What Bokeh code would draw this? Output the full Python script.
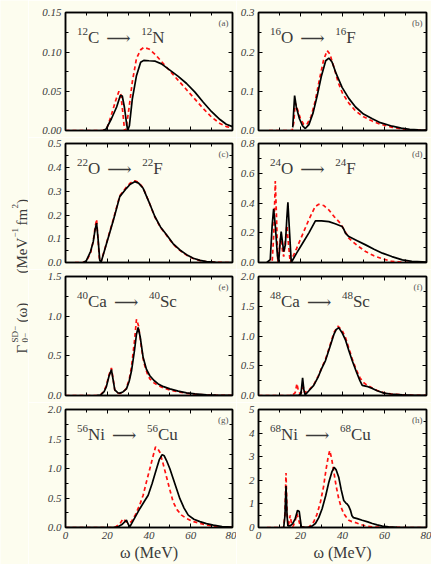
import math
from bokeh.plotting import figure
from bokeh.models import (Range1d, LinearAxis, FixedTicker, AllLabels,
                          CustomJSTickFormatter)
from bokeh.core.properties import value
from bokeh.layouts import row, column
from bokeh.embed import file_html
from bokeh.resources import INLINE

BG = "#fdfdef"
TXT = "#3a3a3a"
SERIF = "Liberation Serif"

# ---------------- data (MeV, MeV^-1 fm^2) ----------------
c12_full_x = [18, 19.5, 22, 24.5, 26.3, 27.2, 28.2, 29.2, 29.8, 30.6, 32, 34, 36, 37.5, 40, 43, 46, 50, 54, 58, 62, 66, 70, 74, 77, 80]
c12_full_y = [0, 0.002, 0.015, 0.03, 0.045, 0.044, 0.03, 0.01, 0, 0.006, 0.04, 0.07, 0.087, 0.0895, 0.089, 0.0885, 0.085, 0.077, 0.069, 0.06, 0.049, 0.036, 0.024, 0.014, 0.008, 0.005]
c12_red_x = [0, 18, 20, 22, 24, 25.6, 26.5, 27.5, 28.3, 29, 30.5, 32, 34, 36, 37.5, 40, 43, 46, 50, 54, 58, 62, 66, 70, 74, 77, 80]
c12_red_y = [0, 0, 0.004, 0.02, 0.038, 0.05, 0.046, 0.022, 0, 0.002, 0.03, 0.062, 0.092, 0.103, 0.106, 0.104, 0.097, 0.088, 0.076, 0.064, 0.052, 0.04, 0.028, 0.017, 0.009, 0.005, 0.003]

o16_full_x = [16.3, 17.2, 18, 19.5, 21, 22.3, 24, 26, 28, 30, 32, 33.5, 35, 37, 39.8, 43, 46.2, 50, 54.2, 58, 63.7, 68, 72, 76, 80]
o16_full_y = [0.008, 0.089, 0.06, 0.03, 0.012, 0.005, 0.015, 0.045, 0.09, 0.14, 0.178, 0.185, 0.175, 0.145, 0.11, 0.082, 0.06, 0.042, 0.03, 0.02, 0.011, 0.006, 0.003, 0.0015, 0.001]
o16_red_x = [5, 16, 16.8, 17.5, 18.5, 20, 21.5, 23, 25, 27, 29, 31, 32.7, 34, 36, 38, 40, 43, 46.2, 50, 54.2, 58, 63.7, 68, 72, 76, 80]
o16_red_y = [0, 0, 0.02, 0.07, 0.055, 0.03, 0.016, 0.015, 0.035, 0.075, 0.13, 0.18, 0.204, 0.195, 0.16, 0.122, 0.095, 0.07, 0.05, 0.035, 0.024, 0.016, 0.008, 0.004, 0.002, 0.001, 0.0005]

o22_full_x = [8.5, 10, 12, 13.3, 14.2, 14.9, 15.6, 16.4, 17, 19, 21, 23, 26, 29.2, 31, 33.2, 35, 37.2, 40, 42.8, 45.5, 48.4, 51.5, 54.8, 58, 61.2, 64.5, 67.6, 72, 76, 80]
o22_full_y = [0, 0.008, 0.046, 0.088, 0.14, 0.166, 0.1, 0.01, 0.0, 0.06, 0.12, 0.18, 0.278, 0.313, 0.33, 0.341, 0.335, 0.313, 0.255, 0.194, 0.15, 0.117, 0.08, 0.053, 0.033, 0.018, 0.009, 0.004, 0.001, 0.0, 0.0]
o22_red_x = [4.5, 8.5, 10, 12, 13.3, 14.2, 14.9, 15.5, 16.2, 16.9, 19, 21, 23, 26, 29.2, 31, 33.2, 35, 37.2, 40, 42.8, 45.5, 48.4, 51.5, 54.8, 58, 61.2, 64.5, 67.6, 72, 76, 80]
o22_red_y = [0, 0, 0.006, 0.04, 0.09, 0.15, 0.182, 0.11, 0.02, 0, 0.062, 0.124, 0.185, 0.282, 0.318, 0.335, 0.345, 0.338, 0.315, 0.255, 0.192, 0.148, 0.115, 0.078, 0.051, 0.031, 0.017, 0.008, 0.003, 0.001, 0.0, 0.0]

o24_full_x = [4, 5.6, 6.5, 7.2, 8, 9, 9.6, 10.2, 10.8, 11.4, 12, 12.8, 13.5, 14, 14.8, 15.6, 18, 21, 24, 27.1, 30, 33.5, 36.5, 39.8, 40.6, 41.4, 43, 47, 51, 55, 59, 63.5, 68.5, 73, 78, 80]
o24_full_y = [0, 0.02, 0.25, 0.362, 0.25, 0.05, 0.0, 0.12, 0.209, 0.14, 0.074, 0.12, 0.3, 0.407, 0.2, 0.0, 0.06, 0.13, 0.2, 0.281, 0.281, 0.276, 0.262, 0.243, 0.225, 0.198, 0.175, 0.147, 0.119, 0.09, 0.063, 0.04, 0.018, 0.008, 0.004, 0.002]
o24_red_x = [4, 6.5, 7.3, 8, 8.6, 9.2, 10, 10.7, 11.4, 12, 12.8, 13.5, 14.3, 15.1, 18, 21, 24, 27, 28.7, 31, 33.5, 36, 39, 41, 43, 47, 51, 55, 59, 63.7, 68, 72, 76, 80]
o24_red_y = [0, 0, 0.2, 0.55, 0.3, 0.0, 0.1, 0.19, 0.08, 0.04, 0.15, 0.25, 0.12, 0.0, 0.09, 0.19, 0.29, 0.378, 0.393, 0.385, 0.355, 0.31, 0.265, 0.215, 0.164, 0.115, 0.074, 0.045, 0.025, 0.007, 0.002, 0.001, 0.0, 0.0]

ca40_full_x = [15, 16.8, 18.5, 19.6, 20.8, 22, 22.8, 23.6, 25, 26, 27.5, 29.2, 30.5, 31.6, 33, 34, 34.8, 35.8, 37.2, 38.8, 40.4, 42.4, 44.4, 47, 50, 54, 58, 62, 67.6, 72, 76, 80]
ca40_full_y = [0, 0.005, 0.05, 0.113, 0.24, 0.327, 0.2, 0.07, 0.035, 0.03, 0.045, 0.084, 0.18, 0.31, 0.56, 0.775, 0.86, 0.74, 0.48, 0.33, 0.25, 0.19, 0.147, 0.112, 0.084, 0.055, 0.034, 0.02, 0.008, 0.004, 0.002, 0.001]
ca40_red_x = [0, 15, 16.8, 18.5, 19.6, 20.8, 22, 22.8, 23.6, 25, 26, 27.5, 29, 30.5, 31.6, 33, 34, 35, 36.3, 37.5, 39, 40.4, 42.4, 44.4, 47, 50, 54, 58, 62, 67.6, 72, 76, 80]
ca40_red_y = [0, 0, 0.008, 0.06, 0.13, 0.26, 0.348, 0.21, 0.07, 0.03, 0.025, 0.04, 0.085, 0.2, 0.36, 0.68, 0.964, 0.88, 0.62, 0.42, 0.29, 0.21, 0.16, 0.126, 0.095, 0.07, 0.045, 0.028, 0.016, 0.006, 0.003, 0.001, 0.0]

ca48_full_x = [15, 19, 20.2, 21, 21.6, 22.2, 24, 26.3, 28.5, 30, 31.9, 34, 35.9, 37, 38.2, 39.8, 41.5, 43, 44.6, 46.5, 48.3, 49.4, 51.5, 54.2, 56.5, 59.8, 63, 68.5, 74, 80]
ca48_full_y = [0, 0, 0.02, 0.296, 0.1, 0.01, 0.08, 0.17, 0.32, 0.45, 0.59, 0.82, 1.03, 1.11, 1.145, 1.06, 0.93, 0.76, 0.59, 0.41, 0.25, 0.17, 0.155, 0.12, 0.08, 0.04, 0.025, 0.01, 0.004, 0.001]
ca48_red_x = [0, 16, 17.5, 18.3, 19, 19.8, 20.5, 21.3, 22, 24, 26.3, 28.5, 30, 31.9, 34, 35.9, 37.8, 39.8, 41.5, 43, 44.6, 46.5, 48.3, 50, 51.5, 54.2, 56.5, 59.8, 63, 68.5, 74, 80]
ca48_red_y = [0, 0, 0.05, 0.2, 0.08, 0.03, 0.05, 0.15, 0.05, 0.09, 0.18, 0.33, 0.46, 0.61, 0.84, 1.06, 1.17, 1.1, 0.97, 0.8, 0.62, 0.44, 0.3, 0.22, 0.18, 0.125, 0.085, 0.045, 0.026, 0.01, 0.004, 0.001]

ni56_full_x = [0, 22.8, 25, 27, 29.2, 30, 30.8, 32.5, 35.6, 37.5, 39.6, 41.5, 43.6, 45, 46.3, 47.3, 48.4, 50, 51.6, 53.2, 54.8, 56.8, 58.8, 61.5, 64.4, 67.5, 70.8, 75, 80]
ni56_full_y = [0, 0, 0.01, 0.05, 0.124, 0.06, 0.01, 0.12, 0.32, 0.43, 0.55, 0.75, 1.0, 1.16, 1.24, 1.22, 1.14, 1.0, 0.83, 0.66, 0.49, 0.33, 0.21, 0.14, 0.1, 0.065, 0.04, 0.015, 0.005]
ni56_red_x = [0, 22, 24, 26, 27.6, 29, 30.2, 31.6, 33.5, 35.5, 37.2, 38.8, 40.4, 42, 43.1, 44.2, 45.2, 46.8, 48.4, 50, 51.6, 53.5, 55.6, 58.2, 61.2, 64.5, 68, 72, 76, 80]
ni56_red_y = [0, 0, 0.01, 0.06, 0.15, 0.1, 0.08, 0.1, 0.22, 0.38, 0.55, 0.78, 1.0, 1.22, 1.37, 1.34, 1.28, 1.08, 0.86, 0.64, 0.43, 0.3, 0.21, 0.15, 0.1, 0.07, 0.04, 0.02, 0.008, 0.002]

ni68_full_x = [11.5, 12, 12.6, 13.1, 13.6, 14, 15.1, 16.3, 17.5, 18.6, 19.4, 19.9, 20.4, 22, 23.9, 25.5, 27.1, 28.7, 30.3, 32, 33.5, 35, 36, 37, 38.2, 39.4, 40.6, 41.5, 42.2, 43, 43.8, 44.5, 45.2, 47, 49.4, 52, 54.2, 56.5, 59, 62, 66, 70, 80]
ni68_full_y = [0, 0, 0.5, 1.76, 0.5, 0.07, 0.07, 0.17, 0.38, 0.73, 0.68, 0.35, 0.03, 0.01, 0.01, 0.06, 0.17, 0.42, 0.8, 1.35, 1.93, 2.38, 2.56, 2.45, 2.14, 1.6, 1.15, 1.05, 1.0, 0.9, 0.73, 0.5, 0.42, 0.38, 0.31, 0.24, 0.17, 0.11, 0.06, 0.03, 0.01, 0.0, 0.0]
ni68_red_x = [4, 12, 12.6, 13.1, 13.6, 14.2, 15.1, 15.8, 16.5, 17.5, 18.3, 19.2, 20, 22, 24, 26.3, 27.8, 29.5, 31, 32.2, 33.2, 33.9, 34.8, 35.9, 37, 38.2, 39.4, 40.6, 42, 43, 44.5, 46.2, 48.5, 51, 54, 57, 60, 65, 70, 80]
ni68_red_y = [0, 0, 0.6, 2.32, 0.6, 0.05, 0.52, 0.1, 0.05, 0.3, 0.59, 0.3, 0.03, 0.01, 0.02, 0.24, 0.55, 1.08, 1.75, 2.49, 3.0, 3.27, 2.95, 2.35, 1.75, 1.23, 0.85, 0.59, 0.42, 0.31, 0.25, 0.21, 0.13, 0.07, 0.03, 0.015, 0.008, 0.003, 0.0, 0.0]

# y-axis tick labels per panel (also fix each panel's y extent)
a_ticks = ["0.00", "0.05", "0.10", "0.15"]
b_ticks = ["0.0", "0.1", "0.2", "0.3"]
c_ticks = ["0.0", "0.1", "0.2", "0.3", "0.4", "0.5"]
d_ticks = ["0.0", "0.2", "0.4", "0.6", "0.8"]
e_ticks = ["0.0", "0.5", "1.0", "1.5"]
f_ticks = ["0.0", "0.5", "1.0", "1.5", "2.0"]
g_ticks = ["0.0", "0.5", "1.0", "1.5", "2.0"]
h_ticks = ["0", "1", "2", "3", "4", "5"]
x_ticks = ["0", "20", "40", "60", "80"]

# panel settings: (full x, full y, red x, red y, y tick labels,
#                  mass number, parent, daughter, panel tag)
panels = [
    (c12_full_x, c12_full_y, c12_red_x, c12_red_y, a_ticks, "12", "C", "N", "(a)"),
    (o16_full_x, o16_full_y, o16_red_x, o16_red_y, b_ticks, "16", "O", "F", "(b)"),
    (o22_full_x, o22_full_y, o22_red_x, o22_red_y, c_ticks, "22", "O", "F", "(c)"),
    (o24_full_x, o24_full_y, o24_red_x, o24_red_y, d_ticks, "24", "O", "F", "(d)"),
    (ca40_full_x, ca40_full_y, ca40_red_x, ca40_red_y, e_ticks, "40", "Ca", "Sc", "(e)"),
    (ca48_full_x, ca48_full_y, ca48_red_x, ca48_red_y, f_ticks, "48", "Ca", "Sc", "(f)"),
    (ni56_full_x, ni56_full_y, ni56_red_x, ni56_red_y, g_ticks, "56", "Ni", "Cu", "(g)"),
    (ni68_full_x, ni68_full_y, ni68_red_x, ni68_red_y, h_ticks, "68", "Ni", "Cu", "(h)"),
]

# ---------------- layout geometry ----------------
ROW_H = [137, 132, 133, 162]
TOP_B = [12, 6, 7, 7]
BOT_B = [7, 7, 7, 37]
COL_W = [208, 195]
LEFT_B = [37, 22]
RIGHT_B = [4, 5]

EL_W = {"C": 0.667, "N": 0.722, "O": 0.722, "F": 0.556, "Ca": 1.111,
        "Sc": 1.0, "Ni": 1.0, "Cu": 1.167}
MAIN_FS = 17
SUP_FS = 11


def add_text(p, x, y, txt, size, font=SERIF, color=TXT, align="left",
             baseline="alphabetic", angle=0.0, style="normal"):
    p.text(x=[x], y=[y], text=[txt], text_font=value(font),
           text_font_size=value(f"{size}px"), text_color=color,
           text_align=align, text_baseline=baseline, angle=angle,
           text_font_style=style)


def make_ticker(labels):
    major = [float(t) for t in labels]
    minor = [(major[k] + major[k + 1]) / 2 for k in range(len(major) - 1)]
    return FixedTicker(ticks=major, minor_ticks=minor)


def style_axis(ax, labels, show):
    ax.ticker = make_ticker(labels)
    ax.axis_line_color = "black"
    ax.axis_line_width = 1.5
    ax.major_tick_in = 4
    ax.major_tick_out = 0
    ax.minor_tick_in = 3
    ax.minor_tick_out = 0
    ax.major_tick_line_color = "black"
    ax.minor_tick_line_color = "black"
    ax.major_tick_line_width = 1
    ax.minor_tick_line_width = 1
    ax.major_label_policy = AllLabels()
    if show:
        ax.major_label_overrides = {float(t): t for t in labels}
        ax.major_label_text_font = SERIF
        ax.major_label_text_font_style = "italic"
        ax.major_label_text_font_size = "11px"
        ax.major_label_text_color = TXT
        ax.major_label_standoff = 4
    else:
        ax.formatter = CustomJSTickFormatter(code="return ''")
        ax.major_label_text_font_size = "0px"
        ax.major_label_standoff = 0


def make_panel(idx):
    xf, yf, xr, yr, yticks, mass, parent, daughter, tag = panels[idx]
    ymax = float(yticks[-1])
    ci = idx % 2
    ri = idx // 2
    w = COL_W[ci]
    h = ROW_H[ri]
    fw = w - LEFT_B[ci] - RIGHT_B[ci]
    fh = h - TOP_B[ri] - BOT_B[ri]
    p = figure(width=w, height=h, x_range=Range1d(0, 80),
               y_range=Range1d(0, ymax * 1.004),
               output_backend="svg", toolbar_location=None,
               min_border_left=LEFT_B[ci], min_border_right=RIGHT_B[ci],
               min_border_top=TOP_B[ri], min_border_bottom=BOT_B[ri])
    p.background_fill_color = BG
    p.border_fill_color = BG
    p.outline_line_color = "black"
    p.outline_line_width = 1.5
    p.grid.visible = False

    mx = 80.0 / fw
    my = ymax / fh
    bottom = ri == 3
    style_axis(p.xaxis[0], x_ticks, bottom)
    style_axis(p.yaxis[0], yticks, True)
    if bottom:
        p.xaxis[0].axis_label = "ω (MeV)"
        p.xaxis[0].axis_label_text_font = SERIF
        p.xaxis[0].axis_label_text_font_style = "normal"
        p.xaxis[0].axis_label_text_font_size = "16px"
        p.xaxis[0].axis_label_text_color = TXT
        p.xaxis[0].axis_label_standoff = 2
    top_ax = LinearAxis()
    style_axis(top_ax, x_ticks, False)
    p.add_layout(top_ax, "above")
    right_ax = LinearAxis()
    style_axis(right_ax, yticks, False)
    p.add_layout(right_ax, "right")

    p.line(xr, yr, line_color="#ff1010", line_width=1.7, line_dash="4 3")
    p.line(xf, yf, line_color="black", line_width=1.7)

    # title: ^A X --> ^A Y
    base = ymax - 25 * my
    sup_y = base + 6.5 * my
    x_sup1 = 11.5
    x_el1 = x_sup1 + 11
    x_arrow = x_el1 + EL_W[parent] * MAIN_FS + 7
    x_sup2 = x_arrow + 27 + 8
    x_el2 = x_sup2 + 11
    add_text(p, x_sup1 * mx, sup_y, mass, SUP_FS)
    add_text(p, x_el1 * mx, base, parent, MAIN_FS)
    add_text(p, x_arrow * mx, base, "⟶", MAIN_FS, font="DejaVu Serif")
    add_text(p, x_sup2 * mx, sup_y, mass, SUP_FS)
    add_text(p, x_el2 * mx, base, daughter, MAIN_FS)
    add_text(p, 80 - 4 * mx, ymax - 5 * my, tag, 9, color="#555555",
             align="right", baseline="top")
    return p


figs = [make_panel(i) for i in range(8)]

# shared y-axis label
ylab = figure(width=28, height=564, x_range=Range1d(0, 28), y_range=Range1d(0, 564),
              output_backend="svg", toolbar_location=None, min_border=0,
              x_axis_location=None, y_axis_location=None)
ylab.background_fill_color = BG
ylab.border_fill_color = BG
ylab.outline_line_color = None
ylab.grid.visible = False
ang = math.pi / 2
pieces = [
    ("Γ", 21, 211, 15), ("SD−", 14.5, 222, 9), ("0−", 24, 222, 9),
    ("(ω)", 21, 242, 15), ("(MeV", 21, 291, 15), ("−1", 14.5, 327, 9),
    ("fm", 21, 339, 15), ("2", 14.5, 356, 9), (")", 21, 360.5, 15),
]
for t, xx, yy, fs in pieces:
    add_text(ylab, xx, yy, t, fs, angle=ang)

grid = column(*[row(figs[2 * r], figs[2 * r + 1]) for r in range(4)])
p = row(ylab, grid)

open("out.html", "w").write(file_html(p, INLINE))
